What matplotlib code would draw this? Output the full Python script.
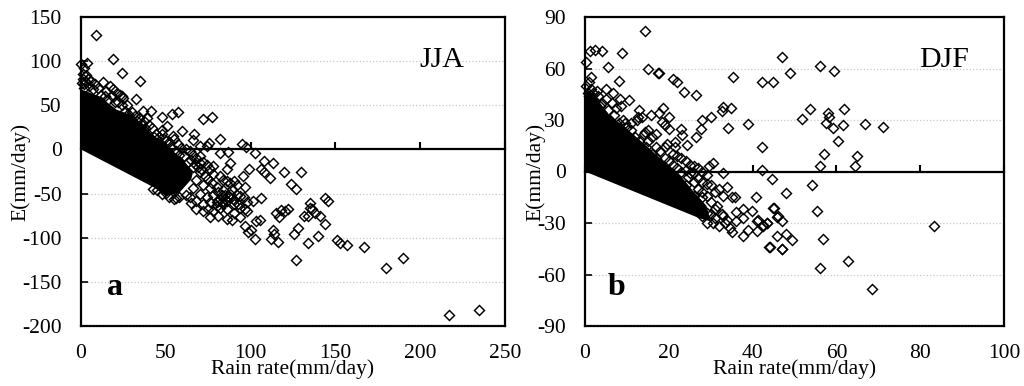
import matplotlib
matplotlib.use("Agg")
import matplotlib.pyplot as plt

# values, (rain rate, E)
jja_points = [
    (8.8, 130), (18.7, 102), (24.4, 87), (34.6, 78), (32.2, 57), (0, 97), (3.7, 98), (24, 60),
    (36.7, 43), (41, 43), (48, 37), (53.6, 40), (57, 42), (72, 35), (77, 37), (59.5, 21),
    (66.6, 18), (66, 11), (48, 22), (51, 26), (54, 15), (82, 12), (95, 6), (97, 3), (102.6, -4),
    (86.7, -3), (75.5, 7), (70, 4), (74, 4), (82, -4), (88, -15), (86, -22), (78, -19), (70, -15),
    (99, -22), (107.9, -13), (113.4, -15), (106, -22), (107.9, -26), (111.4, -32), (119.8, -25),
    (129.5, -26), (123.6, -39), (127, -45), (106, -55), (101.6, -58), (97.6, -60), (96.7, -43),
    (95.7, -30), (90, -36), (86, -36), (89, -45), (94, -53), (90, -57), (92.5, -62), (96.5, -68),
    (96.7, -87), (103, -81), (105.5, -80), (102.6, -101), (98.6, -93), (100.5, -91),
    (112, -102), (113.4, -91), (116, -105), (114, -96), (115, -72), (118, -69), (122, -68),
    (117, -77), (120, -70), (125.8, -96), (128, -89), (126.5, -125), (86, -79), (89, -80),
    (76, -77), (75, -68), (81, -75), (68, -68), (65, -61), (56, -55), (50, -49), (42.6, -45),
    (143.8, -55), (145.4, -58), (135, -61), (131.4, -75), (136, -68), (138, -72), (134, -75),
    (141, -75), (135, -66), (144, -85), (140, -98), (134, -106), (150.7, -103), (152.6, -106),
    (156.6, -108), (167, -111), (180, -134), (190, -123), (217, -187), (234.4, -182),
    # fringe of the dense cloud
    (1, 86), (2, 92), (3, 84), (4, 80), (6, 78), (8, 74), (10, 70), (13, 76), (15, 66), (17, 72),
    (19, 68), (21, 64), (23, 62), (25, 58), (12, 62), (16, 56), (20, 54), (24, 50), (26, 44),
    (28, 40), (30, 42), (32, 38), (34, 36), (37, 32), (39, 36), (40, 28), (42, 24), (44, 18),
    (46, 14), (48, 18), (50, 10), (52, 8), (55, 12), (57, 6), (59, 2), (62, 0), (64, -2), (66, -6),
    (68, -10), (70, -8), (72, -14), (74, -18), (76, -22), (66, -20), (70, -26), (73, -30),
    (78, -28), (82, -30), (84, -35), (88, -38), (92, -40), (68, -35), (72, -40), (76, -44),
    (80, -42), (84, -46), (88, -50), (92, -52), (96, -54), (66, -44), (70, -50), (74, -54),
    (78, -52), (82, -56), (86, -58), (90, -62), (94, -66), (98, -70), (64, -54), (68, -58),
    (72, -62), (76, -60), (80, -64), (84, -62), (86, -68), (90, -72), (94, -76), (80, -60),
    (82, -66), (78, -70), (72, -70), (62, -52), (58, -54), (55, -56), (52, -54), (48, -50), (45, -46),
    (0.5, 75), (1, 80), (1.5, 74), (2, 70), (3, 76), (5, 72), (7, 68), (14, 60), (18, 60), (22, 54),
    (27, 50), (29, 36), (33, 32), (36, 28), (38, 24), (43, 14), (47, 6), (49, 12), (53, 2), (56, -2),
    (58, -6), (61, -8), (63, -14), (65, -12), (67, -16), (69, -20), (71, -22), (75, -34), (77, -38),
    (81, -48), (83, -52), (85, -52), (83, -60), (85, -56), (87, -54), (81, -58),
]
# outline of the part of the cloud that is solid black, no single points to read there
jja_core = [
    (0, 68), (11, 60), (21, 45), (31, 38), (41, 19), (50.5, 4), (60, -11), (66, -26),
    (65, -34), (58, -49), (50, -53), (43, -43), (0, 0),
]

djf_points = [
    (0.2, 63.5), (1.2, 70), (2.5, 71), (4, 70), (14.3, 82), (8.8, 69), (5.6, 61), (15, 60),
    (17.4, 57.5), (17.7, 57.5), (21, 54), (22, 52), (23.6, 46.4), (26.5, 44.5), (35.4, 55),
    (8, 53), (1.4, 55), (2.8, 47), (5, 48), (6.6, 46), (10.5, 41.5), (8.4, 42), (13, 36),
    (15.7, 33), (18.5, 37), (17.7, 34), (12.6, 32), (20, 32), (33, 37.7), (32.6, 35), (34.8, 37),
    (30, 31.5), (27.9, 30), (27.6, 25), (26.5, 20), (34.2, 25.4), (38.9, 27.6), (42.3, 14.4),
    (42.2, 0.8), (44.6, -4.5), (23, 25), (23.2, 21), (24.3, 15.7), (19.5, 16), (21.5, 17),
    (21.5, 14), (20, 25), (18.3, 29), (19, 27), (17, 22), (14.3, 23), (30.5, 5), (29.5, 3),
    (33, -0.6), (34, -9.3), (35.8, -14.8), (35, -14.8), (40.8, -15), (45, -21), (45.8, -26.4),
    (36, -23.5), (37.6, -22), (39.8, -23), (37.6, -27), (41.4, -28), (43.4, -30), (41, -29),
    (35, -35.5), (37.6, -37.7), (39, -34), (41, -34.5), (42.4, -31), (44, -44), (45.8, -37.5),
    (47, -45), (32.6, -24.5), (34, -28), (32, -32),
    (47, 66.8), (56, 61.6), (59.4, 58.5), (49, 57.5), (44.8, 52.2), (42.2, 52), (53.6, 36.3),
    (51.8, 30.5), (61.7, 36.3), (58, 34), (58.3, 31.5), (57.5, 28.5), (59.2, 25.4), (61.5, 27),
    (66.9, 27.6), (71.1, 26.2), (60.5, 18), (57, 10.3), (65, 9), (56, 3.3), (64.5, 3.3),
    (54.1, -8), (48, -12.8), (44.8, -21), (55.3, -23), (46, -25.8), (47, -29), (43.5, -30),
    (42.6, -32), (83.2, -31.5), (48, -36.5), (49.5, -40), (56.8, -39.6), (44.2, -44), (47.1, -45),
    (62.8, -52), (56, -56), (68.5, -68.5),
    # fringe of the dense cloud
    (0.3, 50), (0.6, 46), (1, 52), (1.5, 48), (2, 42), (3, 44), (3.5, 38), (4, 40), (5, 42),
    (5.5, 36), (6.5, 40), (7, 33), (7.5, 37), (8.5, 38), (9, 30), (9.5, 28), (10, 26), (11, 24),
    (12, 20), (12.5, 30), (13.5, 32), (14, 22), (15, 24), (16, 20), (14.5, 14), (16, 10), (17, 14),
    (18, 12), (19, 8), (20, 6), (21, 4), (22, 9), (23, 8), (24, 6), (25, 4), (26, 3), (27, 2),
    (28, 0), (29, -2), (23, 0), (24.5, -3), (26, -6), (27, -10), (28, -6), (30, -8), (31, -12),
    (32, -10), (29, -14), (30, -18), (31.5, -20), (33, -14), (26, -14), (28, -15), (30, -25),
    (30.5, -30), (29, -30), (33.5, -30), (34.5, -33), (31, -22), (33, -26), (36, -29), (22, -10),
    (20, -13), (24, -8),
    (1, 44), (2, 46), (4, 34), (6, 30), (8, 28), (11, 28), (13, 18), (15, 18), (17, 8), (19, 14),
    (21, 10), (22, 2), (24, 1), (25, -1), (26, -1), (27, -4), (28, -12), (29, -7), (27, -20),
    (29, -24), (31, -27), (28, -26),
]
djf_core = [
    (0, 49), (3, 42), (6, 32), (9, 27), (12.3, 20), (16, 12), (20, 3), (23, -3), (26, -12),
    (29, -20), (30, -29), (27.5, -27.4), (0, 0),
]

jja_xticks = [0, 50, 100, 150, 200, 250]
jja_yticks = [-200, -150, -100, -50, 0, 50, 100, 150]
djf_xticks = [0, 20, 40, 60, 80, 100]
djf_yticks = [-90, -60, -30, 0, 30, 60, 90]

plt.rcParams['font.family'] = ['Liberation Serif', 'DejaVu Sans']
plt.rcParams['font.size'] = 15.5


def draw_panel(rect, points, core, xticks, yticks, season, season_x, letter, letter_x):
    ax = fig.add_axes(rect)
    ax.set_xlim(xticks[0], xticks[-1])
    ax.set_ylim(yticks[0], yticks[-1])

    ax.yaxis.grid(True, linestyle=':', color='#c8c8c8', linewidth=0.9)
    ax.set_axisbelow(True)
    ax.set_yticks(yticks)
    ax.set_yticklabels([str(v) for v in yticks])
    ax.tick_params(axis='y', direction='in', length=5, width=1.2, pad=14)

    # the x axis line sits at E=0, the labels stay under the frame
    ax.spines['bottom'].set_position(('data', 0))
    ax.set_xticks(xticks)
    ax.tick_params(axis='x', direction='in', length=5, width=1.5, labelbottom=False)
    frame = ax.secondary_xaxis('bottom')
    frame.set_xticks(xticks)
    frame.set_xticklabels([str(v) for v in xticks])
    frame.tick_params(axis='x', length=0, pad=13)
    frame.set_xlabel("Rain rate(mm/day)", labelpad=-2.5)
    ax.set_ylabel("E(mm/day)", labelpad=-6)

    for s in ax.spines.values():
        s.set_linewidth(1.6)
    frame.spines['bottom'].set_linewidth(1.6)

    ax.fill(*zip(*core), color='black', linewidth=0, zorder=2)
    rain, e = zip(*points)
    ax.plot(rain, e, linestyle='none', marker='D', markersize=4.8, markerfacecolor='none',
            markeredgecolor='black', markeredgewidth=1.05, clip_on=False, zorder=3)

    ax.text(season_x, 0.86, season, transform=ax.transAxes, fontsize=21.5, ha='center', va='center')
    ax.text(letter_x, 0.125, letter, transform=ax.transAxes, fontsize=23, fontweight='bold',
            ha='center', va='center')


fig = plt.figure(figsize=(10.24, 3.86), dpi=100)
W, H = 1024, 386
draw_panel([81 / W, 1 - 326 / H, 424 / W, 309 / H], jja_points, jja_core, jja_xticks, jja_yticks,
           "JJA", 0.85, "a", 0.08)
draw_panel([585 / W, 1 - 326 / H, 419 / W, 309 / H], djf_points, djf_core, djf_xticks, djf_yticks,
           "DJF", 0.857, "b", 0.075)

fig.savefig("out.png", dpi=100)
plt.close(fig)
